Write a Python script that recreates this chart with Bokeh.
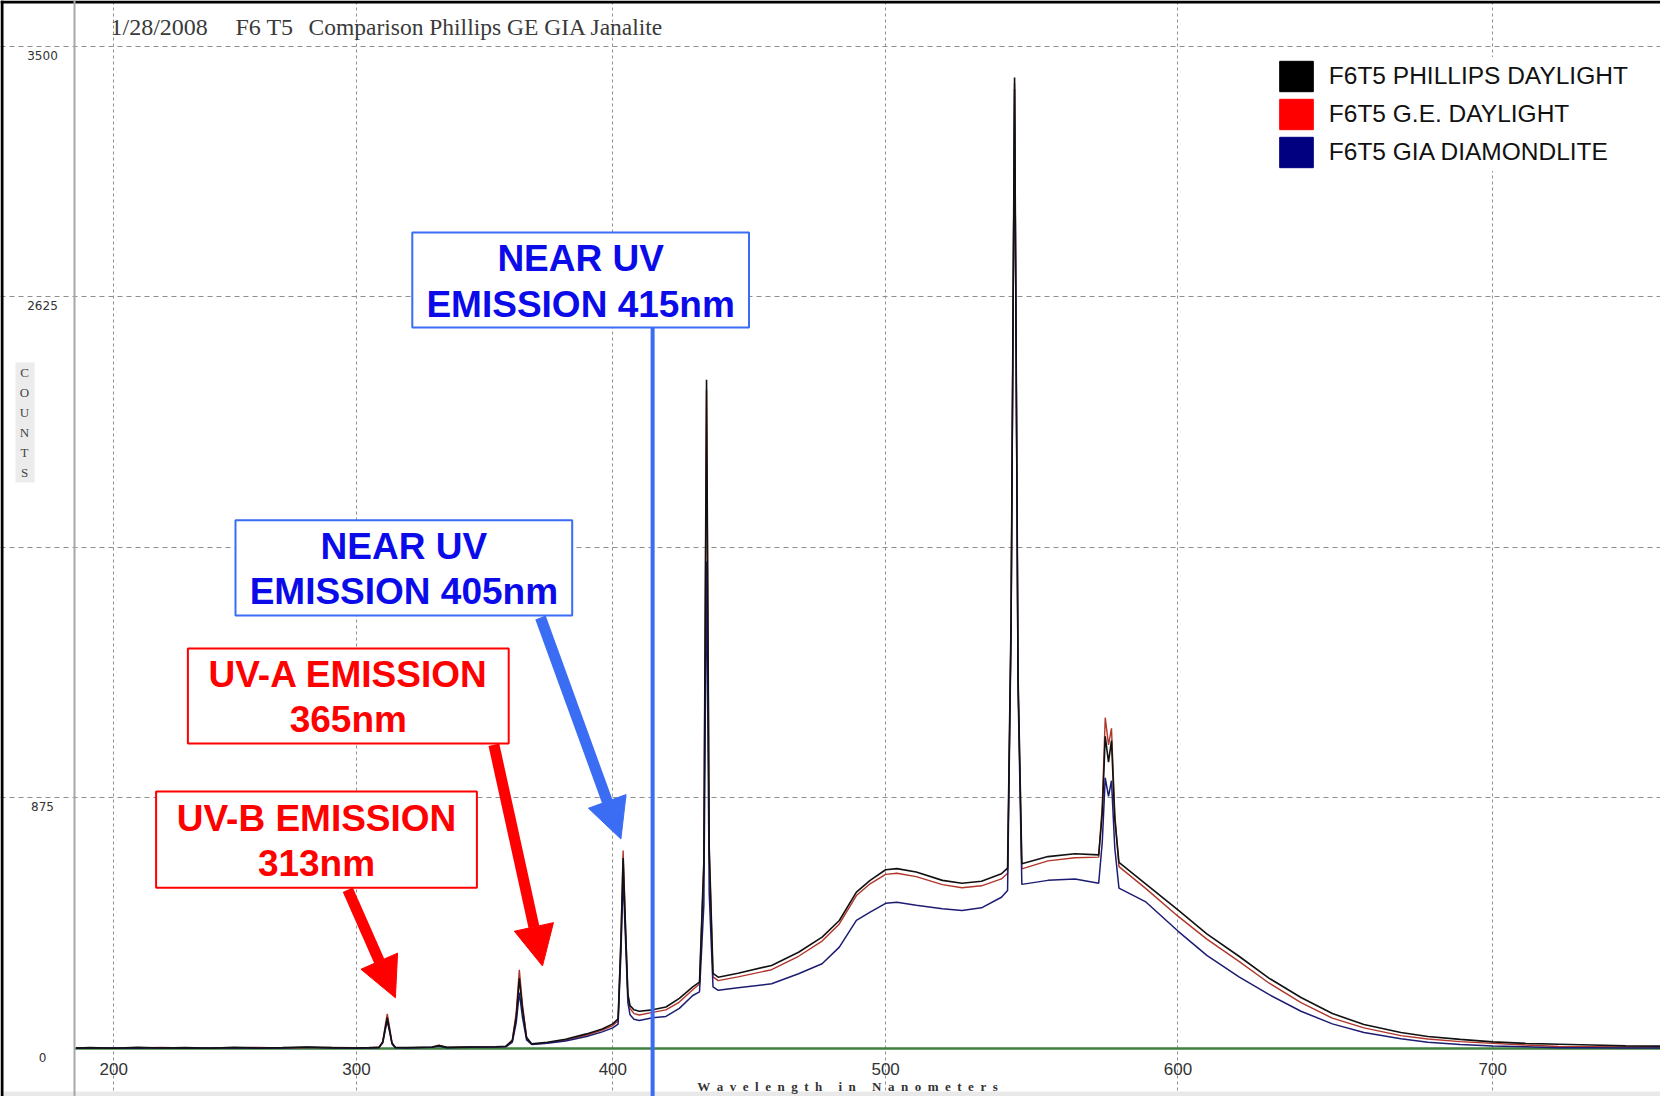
import numpy as np
from bokeh.plotting import figure
from bokeh.models import (Range1d, FixedTicker, Label, Arrow, NormalHead, Span,
                          Legend, LegendItem, ColumnDataSource)
from bokeh.embed import file_html
from bokeh.resources import INLINE

# ---------------- data ----------------
WAVELENGTH = [184, 190, 200, 210, 220, 230, 240, 250, 260, 270, 280, 290, 300, 305,
              309, 310.5, 311.5, 312.3, 313.2, 314.2, 315.5,
              320, 330, 332.8, 336, 345, 355, 359,
              361.5, 363, 364.2, 365.4, 367, 369,
              375, 382, 390, 396, 400, 402,
              403.1, 403.9, 404.8, 405.7, 406.5, 408, 410, 415, 420, 425, 430, 432.5,
              434.1, 435.1, 436.1, 437.5, 439.4, 446.7, 459, 468.8, 477.3, 483.5, 489.6, 494.5,
              500, 504, 510.8, 520, 526.8, 533.6, 540.5, 542.6,
              543.8, 545, 546.2, 547.5, 556.4, 565.6, 573.6,
              574.8, 575.8, 576.9, 577.9, 579, 580.4, 589.2,
              600, 609.5, 620, 629.8, 640, 650, 660, 671.6, 680, 690, 700, 710, 720, 730, 740, 752]

PHILLIPS = [2, 3, 1, 4, 2, 3, 1, 4, 2, 3, 5, 3, 2, 3,
            4, 22, 70, 108, 66, 18, 4,
            3, 5, 10, 4, 5, 6, 8,
            28, 110, 245, 140, 38, 16,
            22, 32, 51, 68, 86, 104,
            380, 665, 420, 190, 150, 135, 130, 135, 145, 175, 215, 232,
            650, 2335, 700, 262, 249, 263, 290, 336, 389, 447, 546, 587,
            624, 628, 616, 587, 577, 584, 610, 630,
            1500, 3390, 1300, 645, 670, 680, 676,
            820, 1090, 1000, 1075, 800, 650, 576,
            484, 400, 322, 245, 178, 122, 84, 56, 42, 32, 23, 18, 15, 12, 9, 8]

GE = [3, 2, 3, 2, 4, 2, 3, 2, 4, 2, 3, 4, 3, 2,
      5, 25, 80, 121, 75, 20, 4,
      3, 4, 12, 4, 5, 6, 7,
      30, 125, 275, 155, 40, 15,
      20, 29, 47, 64, 80, 97,
      400, 691, 430, 185, 140, 122, 117, 126, 135, 162, 205, 225,
      640, 2300, 690, 250, 237, 250, 275, 322, 375, 435, 534, 575,
      608, 612, 600, 572, 561, 568, 592, 612,
      1480, 3370, 1290, 627, 655, 666, 668,
      850, 1155, 1060, 1118, 820, 635, 560,
      462, 382, 304, 228, 160, 106, 72, 45, 33, 24, 18, 12, 7, 6, 5, 4]

GIA = [1, 2, 2, 1, 3, 1, 2, 3, 1, 2, 4, 2, 1, 2,
       3, 20, 65, 96, 60, 16, 3,
       2, 4, 8, 3, 4, 5, 6,
       22, 90, 195, 110, 30, 14,
       18, 26, 42, 58, 72, 85,
       340, 600, 380, 160, 118, 102, 98, 107, 112, 140, 185, 198,
       500, 1700, 540, 215, 203, 212, 226, 261, 296, 354, 447, 476,
       507, 511, 500, 488, 482, 491, 528, 552,
       1450, 3350, 1250, 573, 587, 592, 577,
       720, 945, 880, 935, 700, 560, 513,
       410, 325, 250, 188, 130, 86, 56, 34, 22, 14, 9, 6, 3, 3, 2, 2]

SERIES_NAMES = ["F6T5 PHILLIPS DAYLIGHT", "F6T5 G.E. DAYLIGHT", "F6T5 GIA DIAMONDLITE"]
X_TICKS = [200, 300, 400, 500, 600, 700]
Y_LABELS = [0, 875, 2625, 3500]
Y_GRID = [875, 1750, 2625, 3500]
X_TITLE = "Wavelength in Nanometers"

assert len(WAVELENGTH) == len(PHILLIPS) == len(GE) == len(GIA)

# spectrometer axis is not linear in wavelength: detector column of each tick wavelength
CAL_COLUMN = [39.4, 281.6, 538.8, 811.0, 1103.3, 1418.3]
_coef = np.polyfit(X_TICKS, CAL_COLUMN, 3)


def chan(wl):
    return np.round(np.polyval(_coef, np.asarray(wl, dtype=float)), 2)


# ---------------- layout ----------------
W, H = 1660, 1096
X0 = 74.0                      # plot-area left edge (screen px)
K = 1002.5 / 3500.0            # px per count
Y_TOP = 1048.0 / K
Y_BOT = -(H - 1048.0) / K


def ax(px):
    return px - X0


def ay(py):
    return Y_TOP - py / K


p = figure(width=W, height=H, output_backend="svg", toolbar_location=None,
           x_range=Range1d(-X0, W - X0), y_range=Range1d(Y_BOT, Y_TOP),
           min_border=0, min_border_left=0, min_border_right=0,
           min_border_top=0, min_border_bottom=0)
p.outline_line_color = None
p.background_fill_color = "white"
p.border_fill_color = "white"

# x axis drawn at the bottom of the plot area
xt = [float(v) for v in chan(X_TICKS)]
p.xaxis.fixed_location = float(ay(1052.0))
p.xaxis.ticker = FixedTicker(ticks=xt)
p.xaxis.major_label_overrides = {t: str(w) for t, w in zip(xt, X_TICKS)}
p.xaxis.axis_line_color = None
p.xaxis.major_tick_line_color = None
p.xaxis.minor_tick_line_color = None
p.xaxis.major_label_standoff = 4
p.xaxis.major_label_text_font = "Liberation Sans"
p.xaxis.major_label_text_font_size = "17px"
p.xaxis.major_label_text_color = "#333333"
p.yaxis.visible = False

# grids
p.xgrid.ticker = FixedTicker(ticks=xt)
p.xgrid.bounds = (float(ay(1058.0)), 3500)
p.xgrid.grid_line_color = "#8f8f8f"
p.xgrid.grid_line_dash = "3 3"
p.ygrid.ticker = FixedTicker(ticks=Y_GRID)
p.ygrid.bounds = (ax(63.0), ax(W))
p.ygrid.grid_line_color = "#8f8f8f"
p.ygrid.grid_line_dash = "5 4"

# frame borders: black outer border (top/left), grey plot-area edge
p.add_layout(Span(location=ay(1.5), dimension="width", line_color="black", line_width=3))
p.add_layout(Span(location=ax(1.5), dimension="height", line_color="black", line_width=3))
p.add_layout(Span(location=0, dimension="height", line_color="#a8a8a8", line_width=2))

# light grey strip at the bottom edge and COUNTS background
p.quad(left=[ax(3)], right=[ax(W)], top=[ay(1091)], bottom=[ay(H)],
       fill_color="#e9e9e9", line_color=None)
p.quad(left=[ax(15)], right=[ax(34)], top=[ay(362)], bottom=[ay(482)],
       fill_color="#ececec", line_color=None)

# zero line
p.segment(x0=[0], y0=[0], x1=[ax(W)], y1=[0], line_color="#3f7f3f", line_width=2.5)

# spectra
src = ColumnDataSource(dict(x=chan(WAVELENGTH), ph=PHILLIPS, ge=GE, gia=GIA))
p.line("x", "ge", source=src, line_color="#b0352a", line_width=1.4)
p.line("x", "gia", source=src, line_color="#1c1c72", line_width=1.5)
p.line("x", "ph", source=src, line_color="#111111", line_width=1.6)

# legend with square swatches
LEGEND_COLORS = ["#000000", "#ff0000", "#000080"]
items = []
for name, col in zip(SERIES_NAMES, LEGEND_COLORS):
    r = p.quad(left=[-5000], right=[-4990], top=[-5000], bottom=[-5010],
               fill_color=col, line_color=col)
    items.append(LegendItem(label=name, renderers=[r]))
legend = Legend(items=items, location=(1274.8, H - 170.7), orientation="vertical",
                glyph_width=42, glyph_height=38, spacing=0, padding=0, margin=0,
                label_standoff=12, label_text_font="Liberation Sans",
                label_text_font_size="24.5px", label_text_color="#111111",
                background_fill_color="white", background_fill_alpha=1.0,
                border_line_color=None)
p.add_layout(legend)

# title texts inside the plot
for txt, px, fs in [("1/28/2008", 110.0, "24px"), ("F6 T5", 235.0, "24px"),
                    ("Comparison Phillips GE GIA Janalite", 308.0, "23.5px")]:
    p.add_layout(Label(x=ax(px), y=ay(26.0), text=txt, text_align="left",
                       text_baseline="middle", text_font="Liberation Serif",
                       text_font_size=fs, text_color="#3a3a3a"))

# y tick labels (drawn below their grid lines)
for v in Y_LABELS:
    p.add_layout(Label(x=ax(42.0), y=v, y_offset=-9, text=str(v), text_align="center",
                       text_baseline="middle", text_font="DejaVu Sans",
                       text_font_size="12px", text_color="#333333"))

# vertical COUNTS label
for i, ch in enumerate("COUNTS"):
    p.add_layout(Label(x=ax(24.0), y=ay(371.6 + i * 20.1), text=ch, text_align="center",
                       text_baseline="middle", text_font="Liberation Serif",
                       text_font_size="13px", text_color="#444444"))

# x axis title (letter-spaced, as in the original)
NB = "\u00a0"
spaced = (NB * 5).join((NB * 2).join(word) for word in X_TITLE.split(" "))
p.add_layout(Label(x=ax(847.0), y=ay(1086.0), text=spaced,
                   text_align="center", text_baseline="middle", text_font="Liberation Serif",
                   text_font_style="bold", text_font_size="13px", text_color="#333333"))

# ---------------- annotations ----------------
BLUE_LINE = "#3a6cf4"
BLUE_TXT = "#0b0bea"
RED = "#ff0000"

boxes = [
    # (left, right, top, bottom, border, text color, line1, y1, line2, y2)
    (411.8, 748.5, 231.9, 327.1, BLUE_LINE, BLUE_TXT, "NEAR UV", 258.3, "EMISSION 415nm", 303.8),
    (235.0, 571.7, 519.8, 615.1, BLUE_LINE, BLUE_TXT, "NEAR UV", 546.3, "EMISSION 405nm", 590.8),
    (187.4, 508.2, 648.0, 743.0, RED, RED, "UV-A EMISSION", 674.4, "365nm", 718.9),
    (155.6, 476.4, 790.9, 887.2, RED, RED, "UV-B EMISSION", 818.4, "313nm", 862.8),
]

# 415 nm marker line
x415 = float(chan([415])[0])
p.segment(x0=[x415], y0=[ay(327.0)], x1=[x415], y1=[ay(H)], line_color=BLUE_LINE, line_width=4)

for (l, r, t, b, bc, tc, s1, y1, s2, y2) in boxes:
    p.quad(left=[ax(l)], right=[ax(r)], top=[ay(t)], bottom=[ay(b)],
           fill_color="white", line_color=bc, line_width=2)
    cx = ax((l + r) / 2)
    for s, yy in [(s1, y1), (s2, y2)]:
        p.add_layout(Label(x=cx, y=ay(yy), text=s, text_align="center",
                           text_baseline="middle", text_font="Liberation Sans",
                           text_font_style="bold", text_font_size="37px", text_color=tc))

arrows = [
    ((540.0, 617.0), (620.4, 838.5), BLUE_LINE),
    ((493.4, 744.3), (542.0, 965.5), RED),
    ((347.3, 889.3), (394.9, 997.3), RED),
]
for (x0, y0), (x1, y1), col in arrows:
    p.add_layout(Arrow(x_start=ax(x0), y_start=ay(y0), x_end=ax(x1), y_end=ay(y1),
                       line_color=col, line_width=11,
                       end=NormalHead(size=40, fill_color=col, line_color=col, line_width=1)))

open("out.html", "w").write(file_html(p, INLINE))
